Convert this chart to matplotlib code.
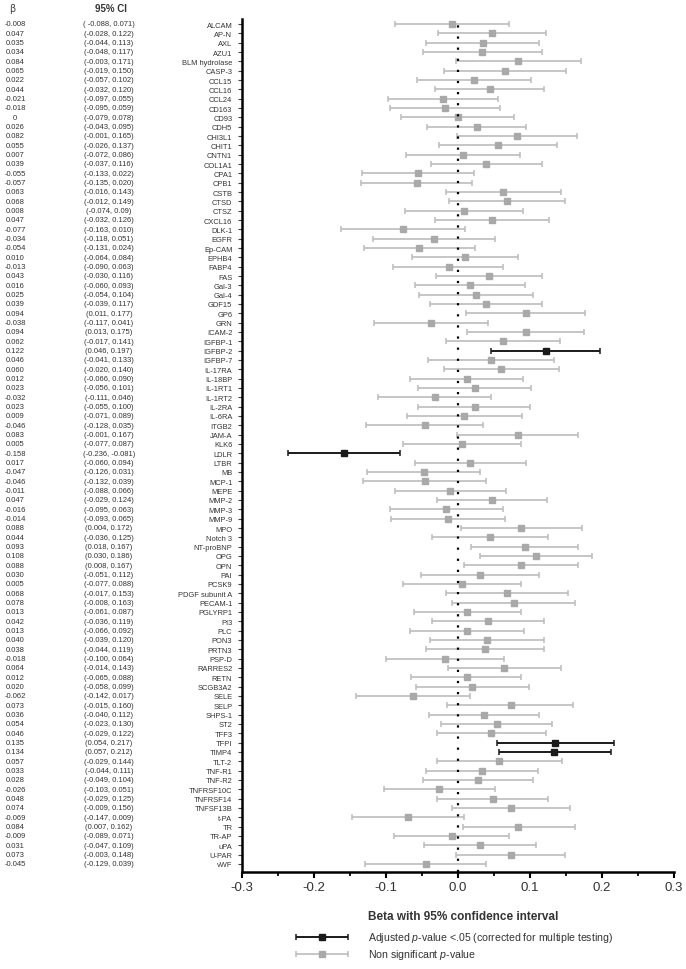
import matplotlib
matplotlib.use("Agg")
import matplotlib.pyplot as plt
import matplotlib.transforms as mtransforms
from matplotlib.ticker import FixedLocator
import numpy as np

plt.rcParams['font.family'] = ['Liberation Sans', 'DejaVu Sans']
plt.rcParams['mathtext.fontset'] = 'custom'
plt.rcParams['mathtext.rm'] = 'Liberation Sans'
plt.rcParams['mathtext.it'] = 'Liberation Sans:italic'

proteins = ["ALCAM", "AP-N", "AXL", "AZU1", "BLM hydrolase", "CASP-3", "CCL15", "CCL16",
            "CCL24", "CD163", "CD93", "CDH5", "CHI3L1", "CHIT1", "CNTN1", "COL1A1", "CPA1",
            "CPB1", "CSTB", "CTSD", "CTSZ", "CXCL16", "DLK-1", "EGFR", "Ep-CAM", "EPHB4",
            "FABP4", "FAS", "Gal-3", "Gal-4", "GDF15", "GP6", "GRN", "ICAM-2", "IGFBP-1",
            "IGFBP-2", "IGFBP-7", "IL-17RA", "IL-18BP", "IL-1RT1", "IL-1RT2", "IL-2RA",
            "IL-6RA", "ITGB2", "JAM-A", "KLK6", "LDLR", "LTBR", "MB", "MCP-1", "MEPE",
            "MMP-2", "MMP-3", "MMP-9", "MPO", "Notch 3", "NT-proBNP", "OPG", "OPN", "PAI",
            "PCSK9", "PDGF subunit A", "PECAM-1", "PGLYRP1", "PI3", "PLC", "PON3", "PRTN3",
            "PSP-D", "RARRES2", "RETN", "SCGB3A2", "SELE", "SELP", "SHPS-1", "ST2", "TFF3",
            "TFPI", "TIMP4", "TLT-2", "TNF-R1", "TNF-R2", "TNFRSF10C", "TNFRSF14",
            "TNFSF13B", "t-PA", "TR", "TR-AP", "uPA", "U-PAR", "vWF"]

beta_txt = ["-0.008", "0.047", "0.035", "0.034", "0.084", "0.065", "0.022", "0.044",
            "-0.021", "-0.018", "0", "0.026", "0.082", "0.055", "0.007", "0.039", "-0.055",
            "-0.057", "0.063", "0.068", "0.008", "0.047", "-0.077", "-0.034", "-0.054", "0.010",
            "-0.013", "0.043", "0.016", "0.025", "0.039", "0.094", "-0.038", "0.094", "0.062",
            "0.122", "0.046", "0.060", "0.012", "0.023", "-0.032", "0.023",
            "0.009", "-0.046", "0.083", "0.005", "-0.158", "0.017", "-0.047", "-0.046", "-0.011",
            "0.047", "-0.016", "-0.014", "0.088", "0.044", "0.093", "0.108", "0.088", "0.030",
            "0.005", "0.068", "0.078", "0.013", "0.042", "0.013", "0.040", "0.038",
            "-0.018", "0.064", "0.012", "0.020", "-0.062", "0.073", "0.036", "0.054", "0.046",
            "0.135", "0.134", "0.057", "0.033", "0.028", "-0.026", "0.048",
            "0.074", "-0.069", "0.084", "-0.009", "0.031", "0.073", "-0.045"]

ci_low_txt = ["-0.088", "-0.028", "-0.044", "-0.048", "-0.003", "-0.019", "-0.057", "-0.032",
              "-0.097", "-0.095", "-0.079", "-0.043", "-0.001", "-0.026", "-0.072", "-0.037", "-0.133",
              "-0.135", "-0.016", "-0.012", "-0.074", "-0.032", "-0.163", "-0.118", "-0.131", "-0.064",
              "-0.090", "-0.030", "-0.060", "-0.054", "-0.039", "0.011", "-0.117", "0.013", "-0.017",
              "0.046", "-0.041", "-0.020", "-0.066", "-0.056", "-0.111", "-0.055",
              "-0.071", "-0.128", "-0.001", "-0.077", "-0.236", "-0.060", "-0.126", "-0.132", "-0.088",
              "-0.029", "-0.095", "-0.093", "0.004", "-0.036", "0.018", "0.030", "0.008", "-0.051",
              "-0.077", "-0.017", "-0.008", "-0.061", "-0.036", "-0.066", "-0.039", "-0.044",
              "-0.100", "-0.014", "-0.065", "-0.058", "-0.142", "-0.015", "-0.040", "-0.023", "-0.029",
              "0.054", "0.057", "-0.029", "-0.044", "-0.049", "-0.103", "-0.029",
              "-0.009", "-0.147", "0.007", "-0.089", "-0.047", "-0.003", "-0.129"]

ci_high_txt = ["0.071", "0.122", "0.113", "0.117", "0.171", "0.150", "0.102", "0.120",
               "0.055", "0.059", "0.078", "0.095", "0.165", "0.137", "0.086", "0.116", "0.022",
               "0.020", "0.143", "0.149", "0.09", "0.126", "0.010", "0.051", "0.024", "0.084",
               "0.063", "0.116", "0.093", "0.104", "0.117", "0.177", "0.041", "0.175", "0.141",
               "0.197", "0.133", "0.140", "0.090", "0.101", "0.046", "0.100",
               "0.089", "0.035", "0.167", "0.087", "-0.081", "0.094", "0.031", "0.039", "0.066",
               "0.124", "0.063", "0.065", "0.172", "0.125", "0.167", "0.186", "0.167", "0.112",
               "0.088", "0.153", "0.163", "0.087", "0.119", "0.092", "0.120", "0.119",
               "0.064", "0.143", "0.088", "0.099", "0.017", "0.160", "0.112", "0.130", "0.122",
               "0.217", "0.212", "0.144", "0.111", "0.104", "0.051", "0.125",
               "0.156", "0.009", "0.162", "0.071", "0.109", "0.148", "0.039"]

significant = ["IGFBP-2", "LDLR", "TFPI", "TIMP4"]

beta = np.array([float(s) for s in beta_txt])
lo = np.array([float(s) for s in ci_low_txt])
hi = np.array([float(s) for s in ci_high_txt])
n = len(proteins)
ypos = np.arange(n)

W, H = 686, 970
fig = plt.figure(figsize=(W / 100, H / 100), dpi=100)
ax_l, ax_r, ax_t, ax_b = 242, 674, 20, 873
ax = fig.add_axes([ax_l / W, 1 - ax_b / H, (ax_r - ax_l) / W, (ax_b - ax_t) / H])

row0, rowN = 25, 865
step = (rowN - row0) / (n - 1)
ax.set_ylim((n - 1) + (ax_b - rowN) / step, -(row0 - ax_t) / step)
ax.set_xlim(-0.3, 0.3)

gray_line = '#bcbcbc'
gray_mark = '#a9a9a9'
black = '#1a1a1a'

ax.axvline(0, color='black', lw=1.6, linestyle=(0, (1, 4.0)), zorder=3)

for i in range(n):
    sig = proteins[i] in significant
    c_line = black if sig else gray_line
    c_mark = black if sig else gray_mark
    ax.errorbar(beta[i], ypos[i], xerr=[[beta[i] - lo[i]], [hi[i] - beta[i]]],
                fmt='s', color=c_mark, ecolor=c_line, elinewidth=1.4 if sig else 1.2,
                capsize=2.0, capthick=1.1, markersize=5.0, mec=c_mark,
                zorder=4 if sig else 2)

ax.set_yticks(ypos)
ax.set_yticklabels(proteins)
ax.tick_params(axis='y', labelsize=5.4, labelcolor='#333333', length=3, width=0.8,
               color='#444444', pad=4)

ax.xaxis.set_major_locator(FixedLocator([-0.3, -0.2, -0.1, 0.0, 0.1, 0.2, 0.3]))
ax.xaxis.set_minor_locator(FixedLocator([-0.25, -0.15, -0.05, 0.05, 0.15, 0.25]))
ax.set_xticklabels(['-0.3', '-0.2', '-0.1', '0.0', '0.1', '0.2', '0.3'])
ax.tick_params(axis='x', which='major', labelsize=9.5, labelcolor='#333333', length=4.5,
               width=1.5, color='black', pad=2)
ax.tick_params(axis='x', which='minor', length=2.8, width=1.3, color='black')

for s in ['top', 'right']:
    ax.spines[s].set_visible(False)
for s in ['left', 'bottom']:
    ax.spines[s].set_linewidth(1.8)
    ax.spines[s].set_color('black')

# left text columns
trans = mtransforms.blended_transform_factory(fig.transFigure, ax.transData)
for i in range(n):
    ax.text(15 / W, ypos[i], beta_txt[i], transform=trans, ha='center', va='center',
            fontsize=5.5, color='#333333')
    pre = '( ' if i == 0 else '('
    ax.text(109 / W, ypos[i], f"{pre}{ci_low_txt[i]}, {ci_high_txt[i]})", transform=trans,
            ha='center', va='center', fontsize=5.5, color='#333333')

fig.text(12 / W, 1 - 9 / H, 'β', ha='center', va='center', fontsize=7, color='#444444',
         family=['DejaVu Sans'])
fig.text(111 / W, 1 - 9 / H, '95% CI', ha='center', va='center', fontsize=7,
         color='#333333', fontweight='bold')

# legend
fig.text(368 / W, 1 - 917 / H, 'Beta with 95% confidence interval', ha='left', va='center',
         fontsize=8.5, fontweight='bold', color='#333333')
lax = fig.add_axes([280 / W, 0, (W - 280) / W, 70 / H])
lax.set_xlim(280, W)
lax.set_ylim(970, 900)
lax.axis('off')
leg_items = [(938, black, black, 'Adjusted $\\it{p}$-value <.05 (corrected for multiple testing)', 1.4),
             (955, gray_line, gray_mark, 'Non significant $\\it{p}$-value', 1.2)]
for yy, cl, cm, lab, lw in leg_items:
    lax.errorbar([322], [yy], xerr=[[26], [26]], fmt='s', color=cm, ecolor=cl, elinewidth=lw,
                 capsize=2.0, capthick=1.1, markersize=5.0, mec=cm)
    lax.text(368, yy, lab, ha='left', va='center', fontsize=7.6, color='#333333')

fig.savefig('out.png', dpi=100)
